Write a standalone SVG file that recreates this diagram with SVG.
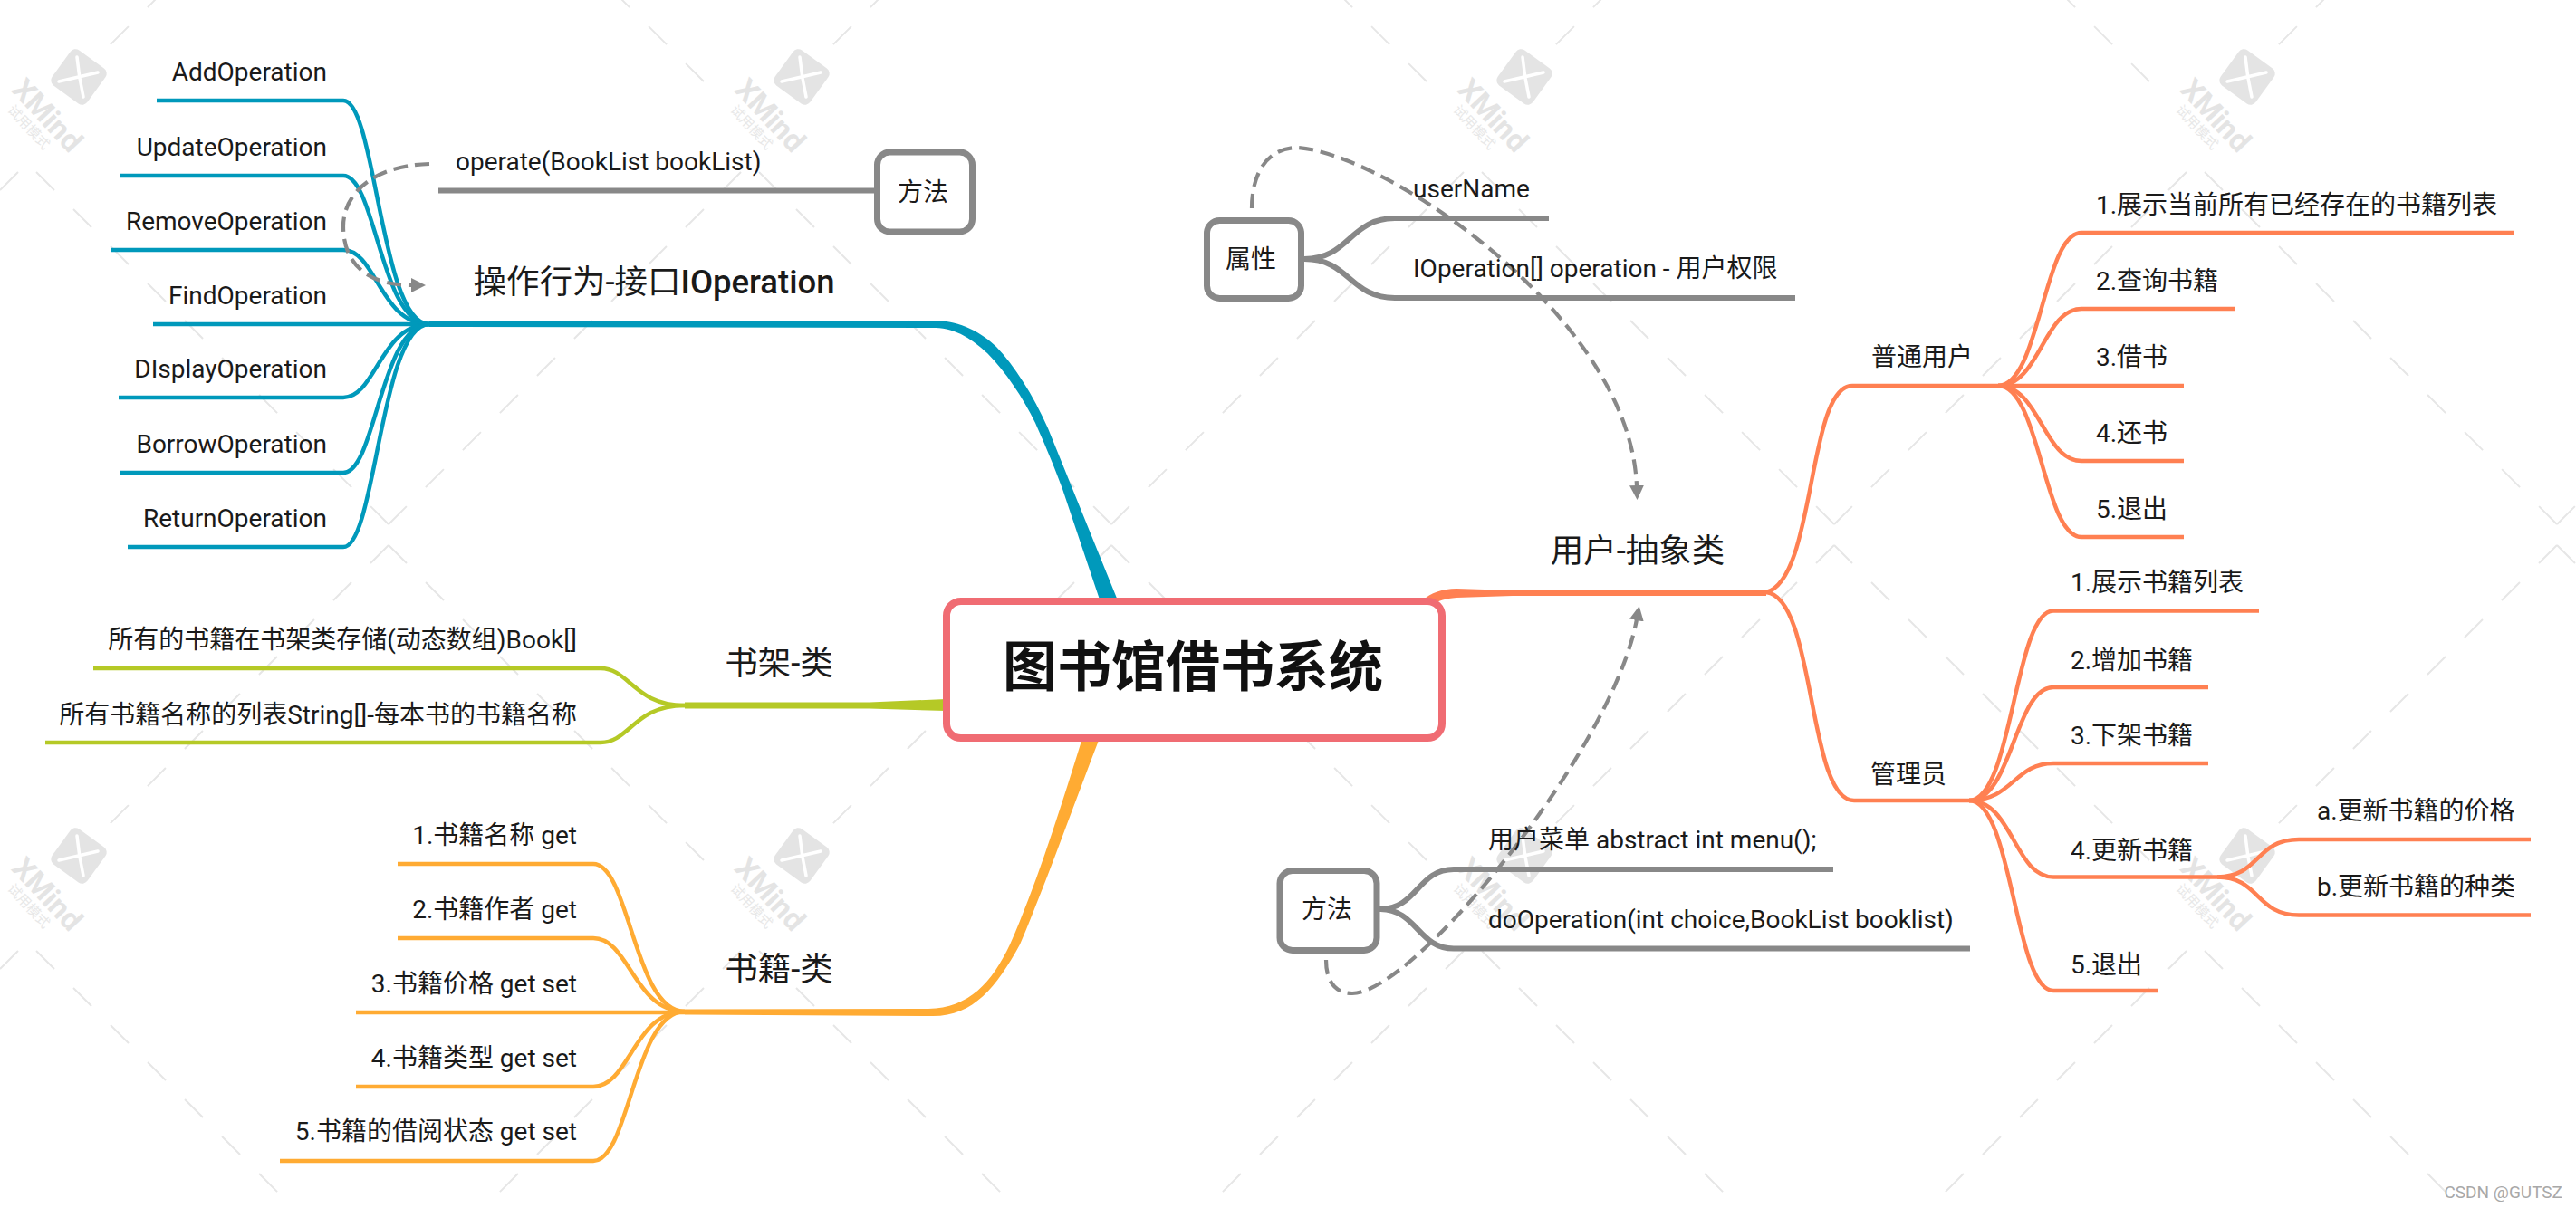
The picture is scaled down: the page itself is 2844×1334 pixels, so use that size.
<svg xmlns="http://www.w3.org/2000/svg" width="2844" height="1334" viewBox="0 0 2844 1334">
<style>
text{font-family:"Roboto","Noto Sans CJK SC",sans-serif;fill:#1a1a1a}
.s{font-size:28px}
.t{font-size:36.500px}
.e{text-anchor:end}
.m{text-anchor:middle}
.c{fill:none;stroke-linecap:butt}
.teal{stroke:#0099bb;stroke-width:4.5}
.lime{stroke:#b5c926;stroke-width:4.5}
.org{stroke:#ffab33;stroke-width:4.5}
.sal{stroke:#ff8052;stroke-width:4.5}
.gr{stroke:#888;stroke-width:6}
.dash{fill:none;stroke:#888;stroke-width:4.2;stroke-dasharray:16 8}
.box{fill:#fff;stroke:#888;stroke-width:7}
.wx{font-size:33px;font-weight:700;fill:#e4e4e4}
.wc{font-size:15px;fill:#e8e8e8}
</style>
<defs>
<pattern id="wm" x="429" y="590" width="798" height="860" patternUnits="userSpaceOnUse">
<path d="M0 12L348 360M798 12L450 360M409 460L798 849M389 460L0 849" fill="none" stroke="#e6e6e6" stroke-width="2" stroke-dasharray="28.3 29.7"/>
</pattern>
<g id="logo">
<rect x="-24" y="-24" width="48" height="48" rx="7" fill="#e4e4e4" transform="rotate(36)"/>
<path d="M-2 -22Q0 0 5 22M-22 5Q0 0 21 -5" fill="none" stroke="#fff" stroke-width="3.5" stroke-linecap="round"/>
</g>
<marker id="ah" markerWidth="16" markerHeight="16" viewBox="0 0 16 16" refX="1" refY="8" orient="auto" markerUnits="userSpaceOnUse"><path d="M0 0L16 8L0 16Z" fill="#888"/></marker>
</defs>
<rect width="2844" height="1334" fill="#fff"/>
<g id="watermark">
<rect width="2844" height="1334" fill="url(#wm)"/>
<use href="#logo" x="87" y="85"/><use href="#logo" x="885" y="85"/><use href="#logo" x="1683" y="85"/><use href="#logo" x="2481" y="85"/>
<use href="#logo" x="87" y="945"/><use href="#logo" x="885" y="945"/><use href="#logo" x="1683" y="945"/><use href="#logo" x="2481" y="945"/>
<text class="wx m" transform="translate(44 135) rotate(47)">XMind</text>
<text class="wc m" transform="translate(28 144) rotate(47)">试用模式</text>
<text class="wx m" transform="translate(842 135) rotate(47)">XMind</text>
<text class="wc m" transform="translate(826 144) rotate(47)">试用模式</text>
<text class="wx m" transform="translate(1640 135) rotate(47)">XMind</text>
<text class="wc m" transform="translate(1624 144) rotate(47)">试用模式</text>
<text class="wx m" transform="translate(2438 135) rotate(47)">XMind</text>
<text class="wc m" transform="translate(2422 144) rotate(47)">试用模式</text>
<text class="wx m" transform="translate(44 995) rotate(47)">XMind</text>
<text class="wc m" transform="translate(28 1004) rotate(47)">试用模式</text>
<text class="wx m" transform="translate(842 995) rotate(47)">XMind</text>
<text class="wc m" transform="translate(826 1004) rotate(47)">试用模式</text>
<text class="wx m" transform="translate(1640 995) rotate(47)">XMind</text>
<text class="wc m" transform="translate(1624 1004) rotate(47)">试用模式</text>
<text class="wx m" transform="translate(2438 995) rotate(47)">XMind</text>
<text class="wc m" transform="translate(2422 1004) rotate(47)">试用模式</text>
</g>
<g id="connectors">
<path fill="#0099bb" d="M474 355L1033 354C1060 354,1085 368,1100 383C1120 404,1140 435,1157 473L1236 668L1216 668L1173 540C1160 505,1150 483,1143 467C1130 440,1110 410,1090 390C1075 376,1055 362,1033 362L474 361Z"/>
<g class="c teal">
<path d="M173 111H379C415 111,420 358,474 358"/>
<path d="M133 194H379C415 194,420 358,474 358"/>
<path d="M123 276H379C415 276,420 358,474 358"/>
<path d="M169 358H474"/>
<path d="M131 439H379C415 439,420 358,474 358"/>
<path d="M133 522H379C415 522,420 358,474 358"/>
<path d="M141 604H379C415 604,420 358,474 358"/>
</g>
<path class="c gr" d="M484 210.500H968"/>
<path class="dash" marker-end="url(#ah)" d="M474 181C410 183,379 215,379 250C379 295,410 315,455 315"/>
<path fill="#b5c926" d="M756 775.500L960 775.500L1045 772L1045 785L960 782.500L756 782.500Z"/>
<g class="c lime">
<path d="M103 738H663C695 738,700 779,756 779"/>
<path d="M50 820H663C695 820,700 779,756 779"/>
</g>
<path fill="#ffab33" d="M1195 815C1170 895,1145 975,1115 1043C1095 1085,1070 1113,1025 1114L756 1114.500L756 1120.500L1030 1122C1075 1122,1100 1090,1126 1043C1155 975,1185 890,1214 815Z"/>
<g class="c org">
<path d="M439 954H655C695 954,700 1117,756 1117"/>
<path d="M439 1036H655C695 1036,700 1117,756 1117"/>
<path d="M393 1118H756"/>
<path d="M393 1200H655C695 1200,700 1117,756 1117"/>
<path d="M309 1282H655C695 1282,700 1117,756 1117"/>
</g>
<g class="c sal">
<path d="M1950 654C2005 640,1995 426,2045 426H2206"/>
<path d="M1950 654C2005 660,1995 884,2047 884H2174"/>
<path d="M2206 426C2252 426,2256 257,2298 257H2776"/>
<path d="M2206 426C2252 426,2256 341,2298 341H2468"/>
<path d="M2206 426H2411"/>
<path d="M2206 426C2252 426,2256 509,2298 509H2411"/>
<path d="M2206 426C2252 426,2256 593,2298 593H2411"/>
<path d="M2174 884C2222 884,2224 674.500,2267 674.500H2494"/>
<path d="M2174 884C2222 884,2224 759,2267 759H2438"/>
<path d="M2174 884C2222 884,2224 843,2267 843H2438"/>
<path d="M2174 884C2222 884,2224 968.500,2267 968.500H2448"/>
<path d="M2174 884C2222 884,2224 1094,2267 1094H2382"/>
<path d="M2448 968.500C2495 968.500,2490 927,2538 927H2794"/>
<path d="M2448 968.500C2495 968.500,2490 1010.500,2538 1010.500H2794"/>
</g>
<path fill="#ff8052" d="M1570 663C1580 655,1592 650,1608 650L1670 652H1950V658H1670L1608 660C1595 661,1590 663,1580 668Z"/>
<g class="c gr">
<path d="M1440 286C1490 286,1490 241,1540 241H1710"/>
<path d="M1440 286C1490 286,1490 329,1540 329H1982"/>
<path d="M1523 1004C1565 1004,1565 960,1605 960H2024"/>
<path d="M1523 1004C1565 1004,1565 1047.500,1605 1047.500H2175"/>
</g>
<path class="dash" marker-end="url(#ah)" d="M1382 230C1382 190,1400 163,1433 163C1530 170,1800 350,1807 537"/>
<path class="dash" marker-end="url(#ah)" d="M1464 1060C1464 1085,1475 1097,1493 1097C1560 1097,1780 830,1807 684"/>
</g>
<g id="root"><rect x="1045" y="664" width="547" height="151" rx="16" fill="#fff" stroke="#f06c73" stroke-width="8"/><text x="1317" y="758" class="m" font-size="60" font-weight="700" style="fill:#111">图书馆借书系统</text></g>
<g id="op"><text x="722" y="324" class="t m">操作行为-接口<tspan font-weight="500">IOperation</tspan></text></g>
<g id="op1"><text x="361" y="89" class="s e">AddOperation</text></g>
<g id="op2"><text x="361" y="172" class="s e">UpdateOperation</text></g>
<g id="op3"><text x="361" y="254" class="s e">RemoveOperation</text></g>
<g id="op4"><text x="361" y="336" class="s e">FindOperation</text></g>
<g id="op5"><text x="361" y="417" class="s e">DIsplayOperation</text></g>
<g id="op6"><text x="361" y="500" class="s e">BorrowOperation</text></g>
<g id="op7"><text x="361" y="582" class="s e">ReturnOperation</text></g>
<g id="opm"><text x="503" y="188" class="s">operate(BookList bookList)</text></g>
<g id="opbox"><rect x="968.500" y="168" width="105" height="88" rx="14" class="box"/><text x="1019" y="222" class="s m">方法</text></g>
<g id="shelf"><text x="860" y="745" class="t m">书架-类</text></g>
<g id="shelf1"><text x="637" y="716" class="s e">所有的书籍在书架类存储(动态数组)Book[]</text></g>
<g id="shelf2"><text x="637" y="799" class="s e">所有书籍名称的列表String[]-每本书的书籍名称</text></g>
<g id="book"><text x="860" y="1083" class="t m">书籍-类</text></g>
<g id="book1"><text x="637" y="932" class="s e">1.书籍名称 get</text></g>
<g id="book2"><text x="637" y="1014" class="s e">2.书籍作者 get</text></g>
<g id="book3"><text x="637" y="1096" class="s e">3.书籍价格 get set</text></g>
<g id="book4"><text x="637" y="1178" class="s e">4.书籍类型 get set</text></g>
<g id="book5"><text x="637" y="1259" class="s e">5.书籍的借阅状态 get set</text></g>
<g id="user"><text x="1808" y="621" class="t m">用户-抽象类</text></g>
<g id="attr"><rect x="1332.500" y="243.500" width="104" height="86" rx="14" class="box"/><text x="1381" y="296" class="s m">属性</text></g>
<g id="attr1"><text x="1560" y="218" class="s">userName</text></g>
<g id="attr2"><text x="1560" y="306" class="s">IOperation[] operation - 用户权限</text></g>
<g id="meth"><rect x="1413" y="961.500" width="107" height="88" rx="14" class="box"/><text x="1465" y="1014" class="s m">方法</text></g>
<g id="meth1"><text x="1643" y="937" class="s">用户菜单 abstract int menu();</text></g>
<g id="meth2"><text x="1643" y="1025" class="s">doOperation(int choice,BookList booklist)</text></g>
<g id="u1"><text x="2066" y="404" class="s">普通用户</text></g>
<g id="u11"><text x="2314" y="236" class="s">1.展示当前所有已经存在的书籍列表</text></g>
<g id="u12"><text x="2314" y="320" class="s">2.查询书籍</text></g>
<g id="u13"><text x="2314" y="404" class="s">3.借书</text></g>
<g id="u14"><text x="2314" y="488" class="s">4.还书</text></g>
<g id="u15"><text x="2314" y="572" class="s">5.退出</text></g>
<g id="u2"><text x="2065" y="865" class="s">管理员</text></g>
<g id="u21"><text x="2286" y="653" class="s">1.展示书籍列表</text></g>
<g id="u22"><text x="2286" y="739" class="s">2.增加书籍</text></g>
<g id="u23"><text x="2286" y="822" class="s">3.下架书籍</text></g>
<g id="u24"><text x="2286" y="949" class="s">4.更新书籍</text></g>
<g id="u241"><text x="2558" y="905" class="s">a.更新书籍的价格</text></g>
<g id="u242"><text x="2558" y="989" class="s">b.更新书籍的种类</text></g>
<g id="u25"><text x="2286" y="1075" class="s">5.退出</text></g>
<text x="2829" y="1323" class="e" font-size="19" style="fill:#a8a8a8">CSDN @GUTSZ</text>
</svg>
